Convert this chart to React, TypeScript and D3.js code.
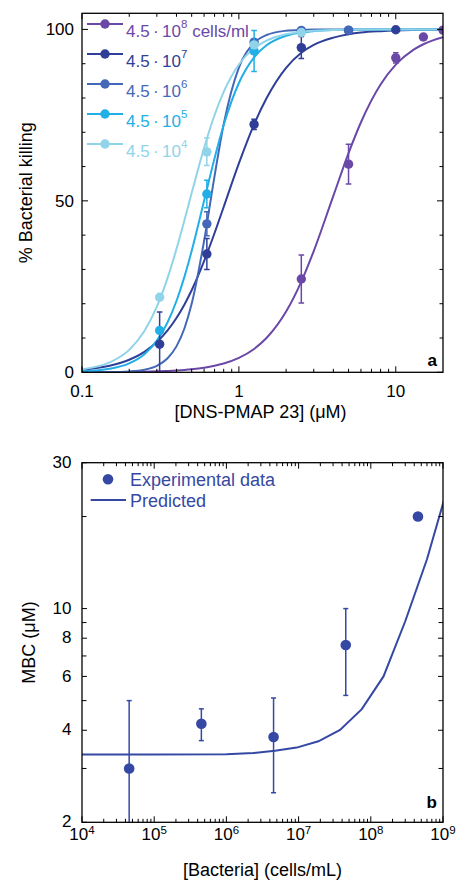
import React from "react";
import * as d3 from "d3";

// ---------- Panel a data ----------
const seriesNames = ["4.5·10^8", "4.5·10^7", "4.5·10^6", "4.5·10^5", "4.5·10^4"];
const seriesExp = ["8", "7", "6", "5", "4"];
const seriesColors = ["#6a48a8", "#2f3f98", "#4468b8", "#22aee6", "#8fd4e8"];

const purpleX = [2.5, 5, 10, 15, 20];
const purpleY = [27.2, 60.7, 91.7, 97.8, 99.8];
const purpleErr = [7, 5.8, 1.5, 0, 0];

const darkX = [0.3125, 0.625, 1.25, 2.5, 5, 10];
const darkY = [8.2, 34.5, 72.3, 94.7, 99.7, 99.9];
const darkErr = [9.4, 4.5, 1.5, 3.2, 0, 0];

const medX = [0.625, 1.25, 2.5, 5];
const medY = [43.3, 96.3, 99.7, 99.8];
const medErr = [3.5, 0, 0, 0];

const cyanX = [0.3125, 0.625, 1.25];
const cyanY = [12.2, 52, 93.7];
const cyanErr = [0, 4, 6];

const lightX = [0.3125, 0.625, 1.25, 2.5];
const lightY = [21.9, 64.3, 95.5, 99.1];
const lightErr = [0, 4, 0, 0];

// fitted curves on a common concentration grid
const curveX = [0.1, 0.15, 0.2, 0.25, 0.3, 0.35, 0.4, 0.45, 0.5, 0.6, 0.7, 0.8, 1, 1.25, 1.5, 2, 2.5, 3, 4, 5, 6, 8, 10, 13, 15, 20];
const purpleCurve = [0.02, 0.06, 0.11, 0.18, 0.27, 0.39, 0.53, 0.69, 0.88, 1.33, 1.89, 2.55, 4.19, 6.81, 10.0, 17.71, 26.45, 35.36, 51.46, 63.91, 72.93, 83.93, 89.71, 94.1, 95.68, 97.72];
const darkCurve = [0.76, 1.91, 3.65, 5.96, 8.81, 12.12, 15.82, 19.78, 23.92, 32.39, 40.62, 48.22, 60.93, 72.31, 79.92, 88.8, 93.2, 95.5, 97.6, 98.6, 99.1, 99.5, 99.7, 99.83, 99.88, 99.94];
const medCurve = [0.01, 0.06, 0.26, 0.77, 1.9, 4.03, 7.56, 12.84, 19.97, 38.3, 57.3, 72.35, 88.87, 96.05, 98.38, 99.61, 99.87, 99.95, 99.99, 100, 100, 100, 100, 100, 100, 100];
const cyanCurve = [0.27, 1.02, 2.6, 5.27, 9.22, 14.45, 20.79, 27.9, 35.4, 50, 62.45, 72.1, 84.37, 91.85, 95.36, 98.15, 99.11, 99.51, 99.81, 99.91, 99.95, 99.98, 99.99, 100, 100, 100];
const lightCurve = [0.87, 2.87, 6.55, 12.05, 19.13, 27.31, 35.94, 44.4, 52.28, 65.44, 75.04, 81.78, 89.76, 94.48, 96.73, 98.59, 99.28, 99.58, 99.82, 99.91, 99.95, 99.98, 99.99, 100, 100, 100];

const xTicksA = [0.1, 1, 10];
const xTickLabelsA = ["0.1", "1", "10"];
const yTicksA = [0, 50, 100];

// ---------- Panel b data ----------
const expX = [4.5e4, 4.5e5, 4.5e6, 4.5e7, 4.5e8];
const expY = [3.0, 4.2, 3.8, 7.6, 20];
const expErr = [2.0, 0.5, 1.3, 2.4, 0];

const predX = [1e4, 1e5, 1e6, 2.35e6, 4.7e6, 9.4e6, 1.88e7, 3.75e7, 7.5e7, 1.5e8, 3e8, 6e8, 1.2e9];
const predY = [3.33, 3.33, 3.34, 3.37, 3.43, 3.51, 3.68, 4.01, 4.69, 6.0, 9.09, 14.5, 25.6];

const xTicksB = [1e4, 1e5, 1e6, 1e7, 1e8, 1e9];
const xTickExpB = ["4", "5", "6", "7", "8", "9"];
const yTicksB = [2, 4, 6, 8, 10, 30];
const yMinorB = [3, 5, 7, 9, 20];

const FONT = "'Liberation Sans', Arial, Helvetica, sans-serif";
const BLUE_B = "#3548a3";

function logMinor(lo: number, hi: number) {
  const out: number[] = [];
  for (let e = Math.floor(Math.log10(lo)); e <= Math.ceil(Math.log10(hi)); e++) {
    for (let m = 2; m <= 9; m++) {
      const v = m * Math.pow(10, e);
      if (v > lo && v < hi) out.push(v);
    }
  }
  return out;
}

export default function App() {
  // Panel a geometry
  const aL = 82, aR = 443, aT = 13.3, aB = 372.3;
  const xa = d3.scaleLog().domain([0.1, 20]).range([aL, aR]);
  const ya = d3.scaleLinear().domain([0, 104.7]).range([aB, aT]);

  // Panel b geometry
  const bL = 82, bR = 443, bT = 462.7, bB = 822.3;
  const xb = d3.scaleLog().domain([1e4, 1e9]).range([bL, bR]);
  const yb = d3.scaleLog().domain([2, 30]).range([bB, bT]);

  const lineA = d3
    .line<[number, number]>()
    .x((d) => xa(d[0]))
    .y((d) => ya(d[1]))
    .curve(d3.curveMonotoneX);
  const lineB = d3
    .line<[number, number]>()
    .x((d) => xb(d[0]))
    .y((d) => yb(d[1]));

  const curves = [purpleCurve, darkCurve, medCurve, cyanCurve, lightCurve];
  const pts = [
    [purpleX, purpleY, purpleErr],
    [darkX, darkY, darkErr],
    [medX, medY, medErr],
    [cyanX, cyanY, cyanErr],
    [lightX, lightY, lightErr],
  ];

  const majT = 6, minT = 3.5;
  const minorXA = logMinor(0.1, 20);
  const minorYA = d3.range(10, 101, 10).filter((v) => v % 50 !== 0);
  const minorXB = logMinor(1e4, 1e9);

  return (
    <svg
      width={456}
      height={881}
      style={{ position: "absolute", left: 0, top: 0, background: "#fff" }}
      fontFamily={FONT}
    >
      <defs>
        <clipPath id="clipA">
          <rect x={aL} y={aT} width={aR - aL} height={aB - aT} />
        </clipPath>
        <clipPath id="clipB">
          <rect x={bL} y={bT} width={bR - bL} height={bB - bT} />
        </clipPath>
      </defs>

      {/* ================= Panel a ================= */}
      <g clipPath="url(#clipA)">
        {curves.map((c, i) => (
          <path
            key={"c" + i}
            d={lineA(curveX.map((x, j) => [x, c[j]] as [number, number])) || ""}
            fill="none"
            stroke={seriesColors[i]}
            strokeWidth={2}
          />
        ))}
        {pts.map((s, i) => (
          <g key={"p" + i} stroke={seriesColors[i]} fill={seriesColors[i]}>
            {s[0].map((x, j) => {
              const y = s[1][j];
              const e = s[2][j];
              const cx = xa(x);
              return (
                <g key={j}>
                  {e > 0 && (
                    <g strokeWidth={1.5}>
                      <line x1={cx} x2={cx} y1={ya(y - e)} y2={ya(y + e)} />
                      <line x1={cx - 2.8} x2={cx + 2.8} y1={ya(y + e)} y2={ya(y + e)} />
                      <line x1={cx - 2.8} x2={cx + 2.8} y1={ya(y - e)} y2={ya(y - e)} />
                    </g>
                  )}
                  <circle cx={cx} cy={ya(y)} r={4.7} stroke="none" />
                </g>
              );
            })}
          </g>
        ))}
      </g>

      {/* frame a */}
      <rect x={aL} y={aT} width={aR - aL} height={aB - aT} fill="none" stroke="#000" strokeWidth={1.3} />
      <g stroke="#000" strokeWidth={1}>
        {xTicksA.map((v) => (
          <g key={"xa" + v}>
            <line x1={xa(v)} x2={xa(v)} y1={aB} y2={aB - majT} />
            <line x1={xa(v)} x2={xa(v)} y1={aT} y2={aT + majT} />
          </g>
        ))}
        {minorXA.map((v) => (
          <g key={"xam" + v}>
            <line x1={xa(v)} x2={xa(v)} y1={aB} y2={aB - minT} />
            <line x1={xa(v)} x2={xa(v)} y1={aT} y2={aT + minT} />
          </g>
        ))}
        {yTicksA.map((v) => (
          <g key={"ya" + v}>
            <line x1={aL} x2={aL + majT} y1={ya(v)} y2={ya(v)} />
            <line x1={aR} x2={aR - majT} y1={ya(v)} y2={ya(v)} />
          </g>
        ))}
        {minorYA.map((v) => (
          <g key={"yam" + v}>
            <line x1={aL} x2={aL + minT} y1={ya(v)} y2={ya(v)} />
            <line x1={aR} x2={aR - minT} y1={ya(v)} y2={ya(v)} />
          </g>
        ))}
      </g>
      <g fontSize={17} fill="#000">
        {xTicksA.map((v, i) => (
          <text key={"xal" + v} x={xa(v)} y={397} textAnchor="middle">
            {xTickLabelsA[i]}
          </text>
        ))}
        {yTicksA.map((v) => (
          <text key={"yal" + v} x={74} y={ya(v)} dy="0.35em" textAnchor="end">
            {v}
          </text>
        ))}
      </g>
      <text x={(aL + aR) / 2 - 2} y={418} fontSize={18} textAnchor="middle">
        [DNS-PMAP 23] (μM)
      </text>
      <text transform={`translate(31.5,${(aT + aB) / 2}) rotate(-90)`} fontSize={18} textAnchor="middle">
        % Bacterial killing
      </text>
      <text x={437} y={366} fontSize={17} fontWeight="bold" textAnchor="end">
        a
      </text>

      {/* legend a */}
      {seriesNames.map((name, i) => {
        const ry = 24 + i * 30;
        const col = seriesColors[i];
        return (
          <g key={"lg" + i}>
            <line x1={87} x2={123} y1={ry} y2={ry} stroke={col} strokeWidth={2} />
            <circle cx={105} cy={ry} r={4.7} fill={col} />
            <text x={126} y={ry + 12.5} fontSize={17} fill={col}>
              4.5{"\u2009·\u2009"}10
              <tspan fontSize={11.5} dy={-8.4}>
                {seriesExp[i]}
              </tspan>
              {i === 0 && <tspan dy={8.4}> cells/ml</tspan>}
            </text>
          </g>
        );
      })}

      {/* ================= Panel b ================= */}
      <g clipPath="url(#clipB)">
        <path
          d={lineB(predX.map((x, j) => [x, predY[j]] as [number, number])) || ""}
          fill="none"
          stroke={BLUE_B}
          strokeWidth={2}
        />
        <g stroke={BLUE_B} fill={BLUE_B}>
          {expX.map((x, j) => {
            const y = expY[j];
            const e = expErr[j];
            const cx = xb(x);
            const lo = Math.max(y - e, 1.5);
            return (
              <g key={"e" + j}>
                {e > 0 && (
                  <g strokeWidth={1.5}>
                    <line x1={cx} x2={cx} y1={yb(lo)} y2={yb(y + e)} />
                    <line x1={cx - 2.5} x2={cx + 2.5} y1={yb(y + e)} y2={yb(y + e)} />
                    {y - e > 2 && <line x1={cx - 2.5} x2={cx + 2.5} y1={yb(y - e)} y2={yb(y - e)} />}
                  </g>
                )}
                <circle cx={cx} cy={yb(y)} r={5.3} stroke="none" />
              </g>
            );
          })}
        </g>
      </g>

      <rect x={bL} y={bT} width={bR - bL} height={bB - bT} fill="none" stroke="#000" strokeWidth={1.3} />
      <g stroke="#000" strokeWidth={1}>
        {xTicksB.map((v) => (
          <g key={"xb" + v}>
            <line x1={xb(v)} x2={xb(v)} y1={bB} y2={bB - majT} />
            <line x1={xb(v)} x2={xb(v)} y1={bT} y2={bT + majT} />
          </g>
        ))}
        {minorXB.map((v) => (
          <g key={"xbm" + v}>
            <line x1={xb(v)} x2={xb(v)} y1={bB} y2={bB - minT} />
            <line x1={xb(v)} x2={xb(v)} y1={bT} y2={bT + minT} />
          </g>
        ))}
        {yTicksB.map((v) => (
          <g key={"yb" + v}>
            <line x1={bL} x2={bL + 5} y1={yb(v)} y2={yb(v)} />
            <line x1={bR} x2={bR - 5} y1={yb(v)} y2={yb(v)} />
          </g>
        ))}
        {yMinorB.map((v) => (
          <g key={"ybm" + v}>
            <line x1={bL} x2={bL + 4.5} y1={yb(v)} y2={yb(v)} />
            <line x1={bR} x2={bR - 4.5} y1={yb(v)} y2={yb(v)} />
          </g>
        ))}
      </g>
      <g fontSize={17} fill="#000">
        {xTicksB.map((v, i) => (
          <text key={"xbl" + v} x={xb(v)} y={839.5} textAnchor="middle">
            10
            <tspan fontSize={11.5} dy={-5.5}>
              {xTickExpB[i]}
            </tspan>
          </text>
        ))}
        {yTicksB.map((v) => (
          <text key={"ybl" + v} x={71.5} y={yb(v)} dy="0.3em" textAnchor="end">
            {v}
          </text>
        ))}
      </g>
      <text x={(bL + bR) / 2} y={876} fontSize={18} textAnchor="middle">
        [Bacteria] (cells/mL)
      </text>
      <text transform={`translate(35,${(bT + bB) / 2}) rotate(-90)`} fontSize={18} textAnchor="middle">
        MBC (μM)
      </text>
      <text x={437} y={808} fontSize={17} fontWeight="bold" textAnchor="end">
        b
      </text>

      {/* legend b */}
      <circle cx={108} cy={479.3} r={5.3} fill={BLUE_B} />
      <text x={130} y={486} fontSize={18} fill={BLUE_B}>
        Experimental data
      </text>
      <line x1={90.7} x2={126} y1={500} y2={500} stroke={BLUE_B} strokeWidth={2} />
      <text x={130} y={506.5} fontSize={18} fill={BLUE_B}>
        Predicted
      </text>
    </svg>
  );
}
